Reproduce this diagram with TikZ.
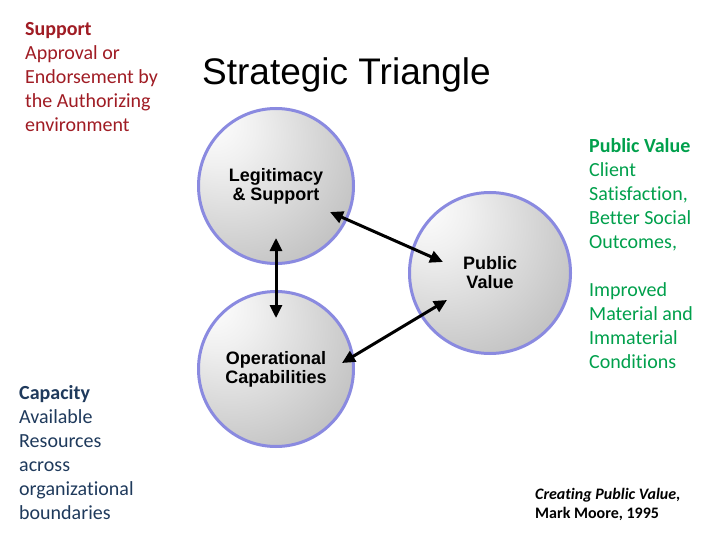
\documentclass[tikz,border=0pt]{standalone}
\usepackage{fontspec}
\setmainfont{Carlito}[Ligatures=NoCommon]
\newfontfamily\arialfont{Liberation Sans}
\usepackage{xcolor}
\usetikzlibrary{arrows.meta}
\usetikzlibrary {positioning}
\definecolor{supportred}{HTML}{A01C24}
\definecolor{valuegreen}{HTML}{00A04C}
\definecolor{capacityblue}{HTML}{1F3A5C}
\definecolor{ringblue}{HTML}{8A8AE0}
\pgfdeclareradialshading{sphere}{\pgfpoint{-22bp}{22bp}}{color(0bp)=(white); color(12bp)=(black!6); color(50bp)=(black!30); color(78bp)=(black!58)}
\tikzset{main node/.style={circle,draw=ringblue,line width=3pt,shading=sphere,minimum size=155pt,inner sep=0pt,align=center,font=\arialfont\bfseries\fontsize{18}{19}\selectfont}}
\tikzset{side text/.style={anchor=north west,inner sep=0pt,align=left,font=\fontsize{20}{24}\selectfont}}
\tikzset{link/.style={{Triangle[length=13pt,width=12pt]}-{Triangle[length=13pt,width=12pt]},line width=3pt}}

\begin{document}
\begin{tikzpicture}[x=1pt,y=-1pt]
	\fill[white] (0,0) rectangle (720,540);
	\useasboundingbox (0,0) rectangle (720,540);

	\node[anchor=base west,inner sep=0pt,font=\arialfont\fontsize{37}{44}\selectfont] (title) at (202,85) {Strategic Triangle};

	\node[main node] (legit) at (276,186) {Legitimacy\\\& Support};
	\node[main node] (oper) [below=25pt of legit] {Operational\\Capabilities};
	\node[main node,minimum size=161pt] (value) at (490,273) {Public\\Value};

	\draw[link] ([yshift=-52pt]legit.center) -- ([yshift=51pt]oper.center);
	\draw[link] ([xshift=54pt,yshift=-26pt]legit.center) -- ([xshift=-47pt,yshift=11pt]value.center);
	\draw[link] ([xshift=66pt,yshift=6pt]oper.center) -- ([xshift=-43pt,yshift=-27pt]value.center);

	\node[side text,text=supportred] (support) at (25,22) {\textbf{Support}\\Approval or\\Endorsement by\\the Authorizing\\environment};
	\node[side text,text=valuegreen] (pubval) at (589,138) {\textbf{Public Value}\\Client\\Satisfaction,\\Better Social\\Outcomes,\\[24pt]Improved\\Material and\\Immaterial\\Conditions};
	\node[side text,text=capacityblue] (capacity) at (19,385) {\textbf{Capacity}\\Available\\Resources\\across\\organizational\\boundaries};
	\node[anchor=north west,inner sep=0pt,align=left,font=\bfseries\fontsize{16}{19.5}\selectfont] (source) at (535,488) {\textit{Creating Public Value,}\\Mark Moore, 1995};
\end{tikzpicture}
\end{document}
